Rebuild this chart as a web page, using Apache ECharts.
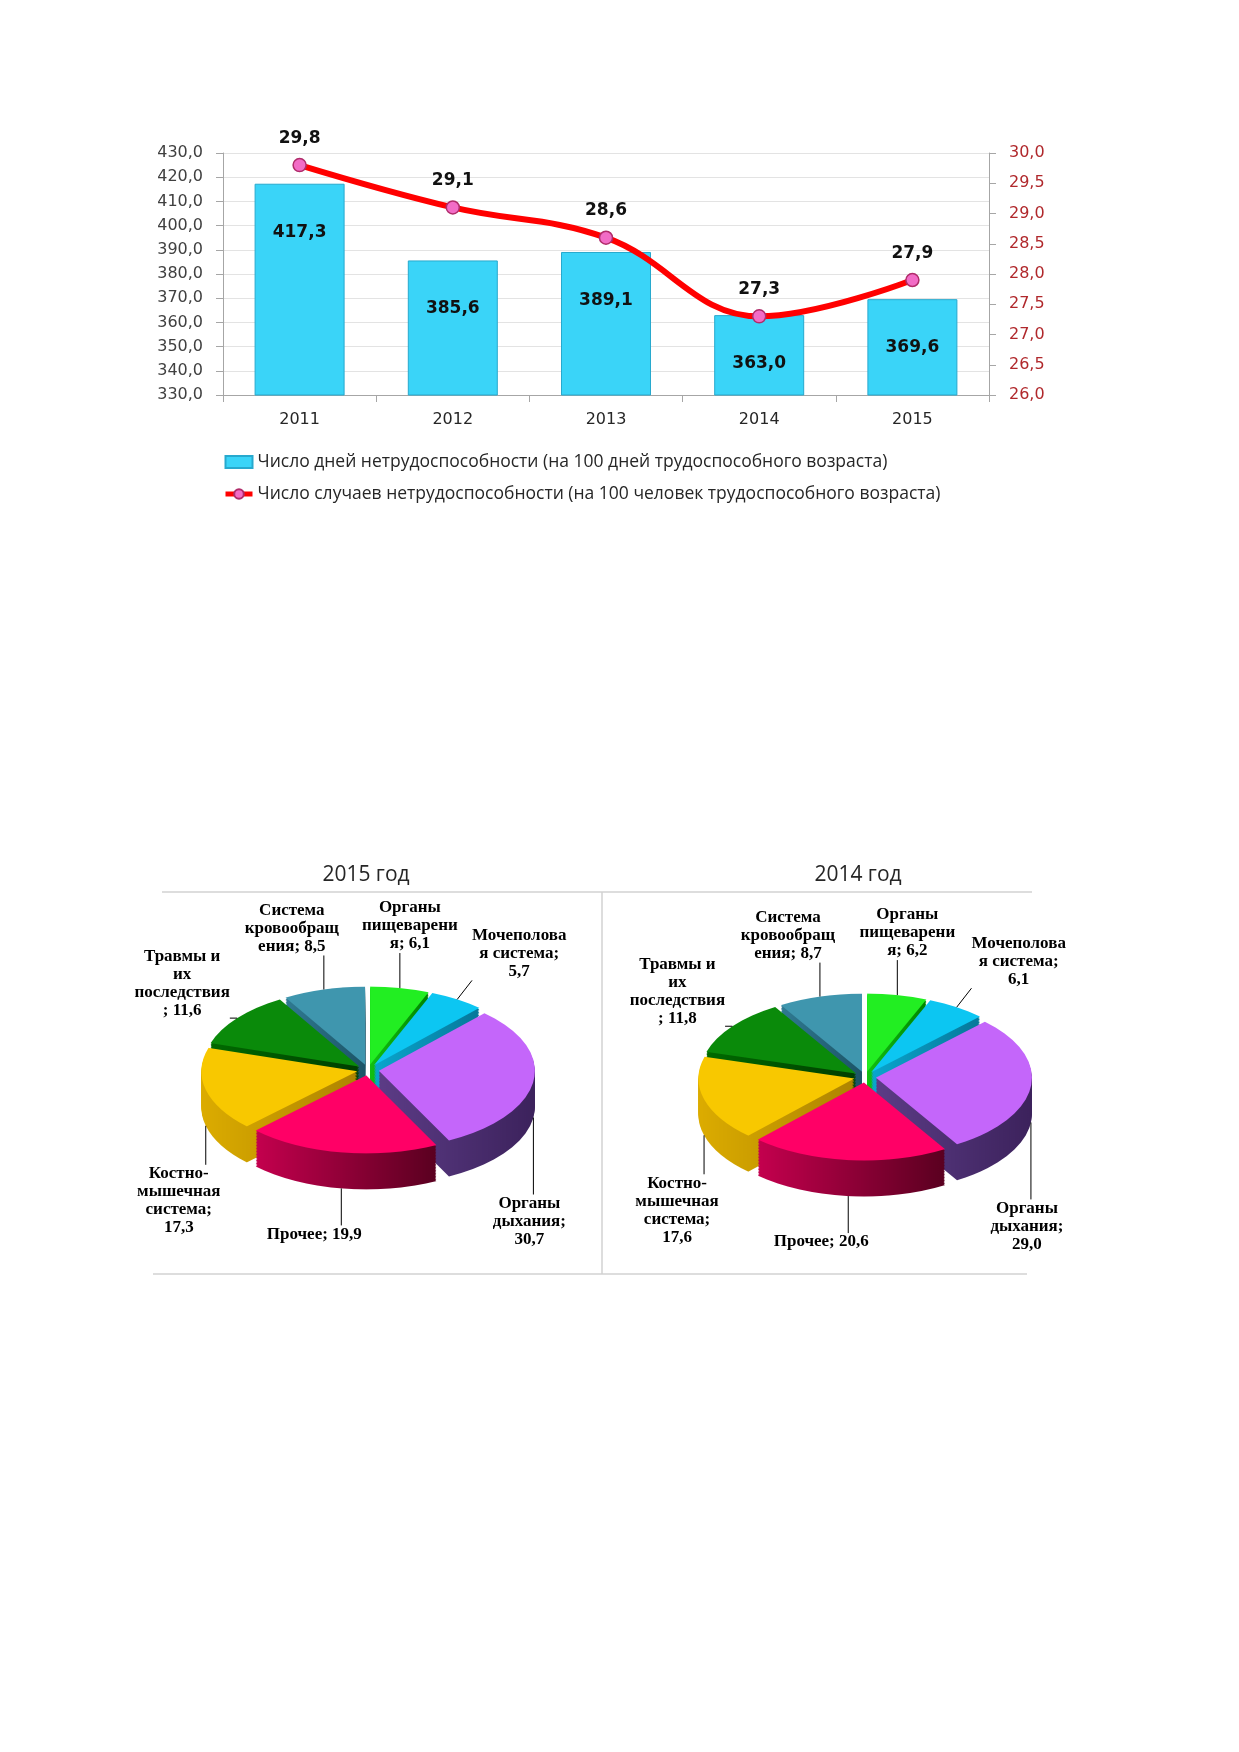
<!DOCTYPE html>
<html lang="ru">
<head>
<meta charset="utf-8">
<title>Временная нетрудоспособность</title>
<script src="https://cdn.jsdelivr.net/npm/echarts@6/dist/echarts.min.js"></script>
<style>
  html, body { margin: 0; padding: 0; background: #fff; }
  body { width: 1239px; height: 1752px; position: relative; overflow: hidden; }
  #bars { position: absolute; left: 0; top: 0; width: 1239px; height: 560px; }
  .pie3d { position: absolute; width: 420px; height: 440px; transform-origin: 0 0; z-index: 1; }
  #pieText { position: absolute; left: 0; top: 840px; width: 1239px; height: 470px; z-index: 2; }
</style>
</head>
<body>
<div id="bars"></div>
<div id="pie2015" class="pie3d"></div>
<div id="pie2014" class="pie3d"></div>
<div id="pieText"></div>
<script>
// --- data: bar + line chart ---
const years = ['2011', '2012', '2013', '2014', '2015'];
const daysPer100 = [417.3, 385.6, 389.1, 363.0, 369.6];
const casesPer100 = [29.8, 29.1, 28.6, 27.3, 27.9];
const daysName = 'Число дней нетрудоспособности (на 100 дней трудоспособного возраста)';
const casesName = 'Число случаев нетрудоспособности (на 100 человек трудоспособного возраста)';

// --- data: structure by cause (%) ---
const causes = [
    'Органы пищеварения', 'Мочеполовая система', 'Органы дыхания', 'Прочее',
    'Костно-мышечная система', 'Травмы и их последствия', 'Система кровообращения'
];
// label text as wrapped in the original, {v} = value
const causeLabels = [
    'Органы\nпищеварени\nя; {v}',
    'Мочеполова\nя система;\n{v}',
    'Органы\nдыхания;\n{v}',
    'Прочее; {v}',
    'Костно-\nмышечная\nсистема;\n{v}',
    'Травмы и\nих\nпоследствия\n; {v}',
    'Система\nкровообращ\nения; {v}'
];
const share2015 = [6.1, 5.7, 30.7, 19.9, 17.3, 11.6, 8.5];
const share2014 = [6.2, 6.1, 29.0, 20.6, 17.6, 11.8, 8.7];

const topColors = ['#22EE22', '#0CC6F2', '#C466FA', '#FF0066', '#F8C800', '#0A8A0A', '#3F96AE'];
const sideColors = [
    ['#12C012', '#008400'], ['#0AA6CE', '#06789A'], ['#5C3C86', '#3C225C'], ['#C4004E', '#5A0020'],
    ['#DCAC00', '#AE8400'], ['#006A00', '#003E00'], ['#307A92', '#1C5466']
];

const fmt = v => v.toFixed(1).replace('.', ',');

// ---------------- bar + line chart ----------------
const bars = echarts.init(document.getElementById('bars'));
const axisGrey = '#A6A6A6';
bars.setOption({
    animation: false,
    grid: { left: 223, top: 153, width: 766, height: 242 },
    legend: {
        orient: 'vertical', left: 223, top: 453, padding: 0, itemGap: 14, itemWidth: 27, itemHeight: 12,
        textStyle: { fontFamily: 'Open Sans', fontSize: 17.5, color: '#262626' },
        lineStyle: { width: 5 },
        data: [{ name: daysName, icon: 'rect' }, { name: casesName }]
    },
    xAxis: {
        type: 'category', data: years,
        axisLine: { lineStyle: { color: axisGrey } },
        axisTick: { show: true, length: 7, lineStyle: { color: axisGrey } },
        axisLabel: { fontFamily: 'DejaVu Sans', fontSize: 16, color: '#262626', margin: 17 }
    },
    yAxis: [{
        type: 'value', min: 330, max: 430, interval: 10,
        axisLine: { show: true, lineStyle: { color: axisGrey } },
        axisTick: { show: true, length: 7, lineStyle: { color: axisGrey } },
        axisLabel: { formatter: fmt, fontFamily: 'DejaVu Sans', fontSize: 16, color: '#404040', margin: 20 },
        splitLine: { lineStyle: { color: '#E3E3E3' } }
    }, {
        type: 'value', min: 26, max: 30, interval: 0.5, position: 'right',
        axisLine: { show: true, lineStyle: { color: axisGrey } },
        axisTick: { show: true, length: 7, lineStyle: { color: axisGrey } },
        axisLabel: { formatter: fmt, fontFamily: 'DejaVu Sans', fontSize: 16, color: '#B0282C', margin: 20 },
        splitLine: { show: false }
    }],
    series: [{
        name: daysName, type: 'bar', data: daysPer100, barWidth: 90,
        itemStyle: { color: '#3AD4F8', borderColor: '#27A9CE', borderWidth: 1 },
        label: {
            show: true, position: 'insideTop', distance: 40, formatter: p => fmt(p.value),
            fontFamily: 'DejaVu Sans', fontWeight: 'bold', fontSize: 17, color: '#111'
        }
    }, {
        name: casesName, type: 'line', yAxisIndex: 1, data: casesPer100, smooth: 0.4, z: 5,
        symbol: 'circle', symbolSize: 13,
        lineStyle: { color: '#FF0000', width: 6 },
        itemStyle: { color: '#F26CC6', borderColor: '#B02C6A', borderWidth: 1.5 },
        label: {
            show: true, position: 'top', distance: 11, formatter: p => fmt(p.value),
            fontFamily: 'DejaVu Sans', fontWeight: 'bold', fontSize: 17, color: '#111'
        }
    }]
});

// ---------------- 3D-looking pies ----------------
// top face drawn as a pie in a div squashed vertically, walls = stacked darker copies
const PIE = { R: 156, off: 11, k: 0.5, depth: 36, cx: 210, cy: 180 };
const TEXT_TOP = 840;
const pies = [
    { id: 'pie2015', title: '2015 год', values: share2015, cx: 368, cy: 1070, tx: 366 },
    { id: 'pie2014', title: '2014 год', values: share2014, cx: 865, cy: 1077, tx: 858 }
];
// where each label sits relative to its leader anchor (screen px)
const labelShift = [[10, -62], [62, -46], [-4, 104], [-27, 46], [-27, 75], [-55, -35], [-32, -61]];

function sliceLayer(values, dy, colorOf, z) {
    return {
        type: 'pie', z: z, silent: true, animation: false,
        center: [PIE.cx, PIE.cy + dy], radius: PIE.R,
        startAngle: 90, clockwise: true,
        selectedMode: 'multiple', selectedOffset: PIE.off,
        select: { itemStyle: { borderWidth: 0 } },
        emphasis: { disabled: true },
        label: { show: false }, labelLine: { show: false },
        itemStyle: { borderWidth: 0 },
        data: values.map((v, i) => ({ value: v, name: causes[i], selected: true, itemStyle: { color: colorOf(i) } }))
    };
}

pies.forEach(pie => {
    const el = document.getElementById(pie.id);
    el.style.left = (pie.cx - PIE.cx) + 'px';
    el.style.top = (pie.cy - PIE.cy * PIE.k) + 'px';
    el.style.transform = 'scaleY(' + PIE.k + ')';
    const chart = echarts.init(el);
    const series = [];
    const depthPre = PIE.depth / PIE.k;
    let z = 1;
    for (let d = depthPre; d > 0; d -= 3) {
        series.push(sliceLayer(pie.values, d, i => ({
            type: 'linear', x: 0, y: 0, x2: 1, y2: 0,
            colorStops: [{ offset: 0, color: sideColors[i][0] }, { offset: 1, color: sideColors[i][1] }]
        }), z++));
    }
    series.push(sliceLayer(pie.values, 0, i => topColors[i], z++));
    chart.setOption({ animation: false, series: series });
});

// ---------------- titles, frame lines and labels ----------------
const text = echarts.init(document.getElementById('pieText'));
const frameLine = (x1, y1, x2, y2) => ({
    type: 'line', silent: true, shape: { x1, y1, x2, y2 },
    style: { stroke: '#D2D2D2', lineWidth: 1.5 }
});

text.setOption({
    animation: false,
    graphic: [
        frameLine(162, 52, 1032, 52),
        frameLine(602, 52, 602, 434),
        frameLine(153, 434, 1027, 434),
        ...pies.map(pie => ({
            type: 'text', silent: true, x: pie.tx, y: 35,
            style: {
                text: pie.title, fill: '#262626', font: '21px "Open Sans"',
                textAlign: 'center', textVerticalAlign: 'middle'
            }
        }))
    ],
    series: pies.map(pie => {
        const ccy = pie.cy - TEXT_TOP;
        return {
            type: 'pie', silent: true, animation: false,
            center: [pie.cx, ccy], radius: PIE.R + PIE.off,
            startAngle: 90, clockwise: true, avoidLabelOverlap: false,
            itemStyle: { color: 'rgba(0,0,0,0)' },
            emphasis: { disabled: true },
            label: {
                show: true, position: 'outside', color: '#000',
                fontFamily: 'Liberation Serif', fontWeight: 'bold', fontSize: 17, lineHeight: 18,
                formatter: p => causeLabels[p.dataIndex].replace('{v}', fmt(p.value))
            },
            labelLine: { show: true, length: 10, length2: 10, lineStyle: { color: '#000', width: 1 } },
            labelLayout: p => {
                const p0 = p.labelLinePoints[0];
                const ax = p0[0];
                const ay = ccy + (p0[1] - ccy) * PIE.k + (p0[1] > ccy + 1 ? PIE.depth : 0);
                const s = labelShift[p.dataIndex];
                const lx = ax + s[0], ly = ay + s[1];
                const w = p.labelRect.width, h = p.labelRect.height;
                const ex = Math.min(Math.max(ax, lx - w / 2), lx + w / 2);
                const ey = Math.min(Math.max(ay, ly - h / 2), ly + h / 2);
                return {
                    x: lx, y: ly, align: 'center', verticalAlign: 'middle',
                    labelLinePoints: [[ax, ay], [ex, ey], [ex, ey]]
                };
            },
            data: pie.values.map((v, i) => ({ value: v, name: causes[i] }))
        };
    })
});
</script>
</body>
</html>
